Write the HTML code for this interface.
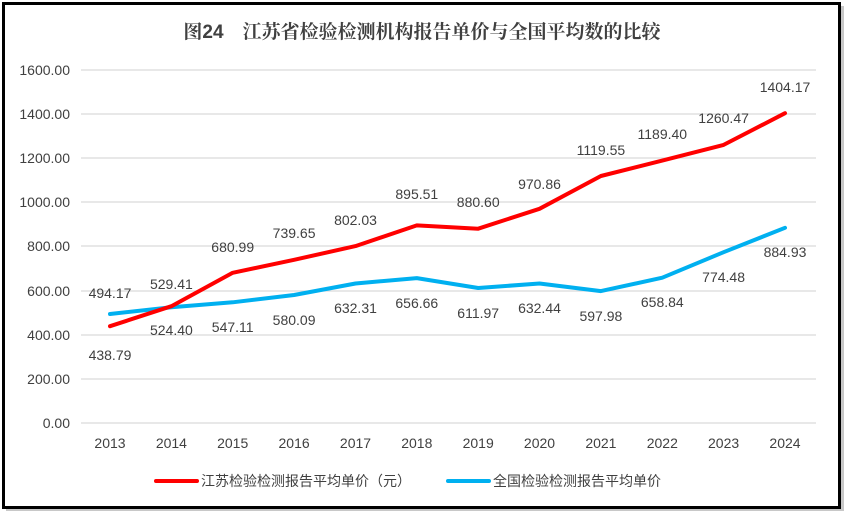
<!DOCTYPE html>
<html><head><meta charset="utf-8"><style>
body{margin:0;background:#fff;}
svg text{font-family:"Liberation Sans","Noto Sans CJK SC",sans-serif;fill:#404040;font-size:14px;}
</style></head><body>
<svg width="850" height="521" viewBox="0 0 850 521" xmlns="http://www.w3.org/2000/svg">
<rect x="0" y="0" width="850" height="521" fill="#fff"/>
<rect x="6" y="6" width="838" height="505" fill="#c8c8c8"/>
<rect x="3.5" y="3.5" width="836" height="504" fill="#fff" stroke="#000" stroke-width="3"/>
<text x="422" y="38" text-anchor="middle" style="font-size:19px;font-weight:bold;fill:#404040;font-family:'Liberation Sans','Noto Serif CJK SC',serif">图24　江苏省检验检测机构报告单价与全国平均数的比较</text>
<g stroke="#d9d9d9" stroke-width="1.3">
<line x1="81" x2="816" y1="70" y2="70"/><line x1="81" x2="816" y1="114" y2="114"/>
<line x1="81" x2="816" y1="158" y2="158"/><line x1="81" x2="816" y1="202" y2="202"/>
<line x1="81" x2="816" y1="246" y2="246"/><line x1="81" x2="816" y1="291" y2="291"/>
<line x1="81" x2="816" y1="335" y2="335"/><line x1="81" x2="816" y1="379" y2="379"/>
<line x1="81" x2="816" y1="423" y2="423"/>
</g>
<g text-anchor="end">
<text x="70" y="75">1600.00</text><text x="70" y="119">1400.00</text><text x="70" y="163">1200.00</text>
<text x="70" y="207">1000.00</text><text x="70" y="251">800.00</text><text x="70" y="296">600.00</text>
<text x="70" y="340">400.00</text><text x="70" y="384">200.00</text><text x="70" y="428">0.00</text>
</g>
<g text-anchor="middle">
<text x="110" y="448">2013</text><text x="171.4" y="448">2014</text><text x="232.7" y="448">2015</text>
<text x="294.1" y="448">2016</text><text x="355.5" y="448">2017</text><text x="416.8" y="448">2018</text>
<text x="478.2" y="448">2019</text><text x="539.5" y="448">2020</text><text x="600.9" y="448">2021</text>
<text x="662.3" y="448">2022</text><text x="723.6" y="448">2023</text><text x="785" y="448">2024</text>
</g>
<polyline fill="none" stroke="#00b0f0" stroke-width="4" stroke-linejoin="round" stroke-linecap="round"
points="110,314 171.4,307.3 232.7,302.3 294.1,295 355.5,283.5 416.8,278.1 478.2,288 539.5,283.5 600.9,291.1 662.3,277.7 723.6,252.2 785,227.8"/>
<polyline fill="none" stroke="#ff0000" stroke-width="4" stroke-linejoin="round" stroke-linecap="round"
points="110,326.2 171.4,306.2 232.7,272.8 294.1,259.8 355.5,246.1 416.8,225.4 478.2,228.7 539.5,208.8 600.9,176 662.3,160.6 723.6,144.9 785,113.2"/>
<g text-anchor="middle">
<text x="110" y="360">438.79</text><text x="171.4" y="289">529.41</text><text x="232.7" y="252">680.99</text>
<text x="294.1" y="238">739.65</text><text x="355.5" y="225">802.03</text><text x="416.8" y="199">895.51</text>
<text x="478.2" y="207">880.60</text><text x="539.5" y="189">970.86</text><text x="600.9" y="155">1119.55</text>
<text x="662.3" y="139">1189.40</text><text x="723.6" y="123">1260.47</text><text x="785" y="92">1404.17</text>
<text x="110" y="298">494.17</text><text x="171.4" y="335">524.40</text><text x="232.7" y="332">547.11</text>
<text x="294.1" y="325">580.09</text><text x="355.5" y="313">632.31</text><text x="416.8" y="308">656.66</text>
<text x="478.2" y="318">611.97</text><text x="539.5" y="313">632.44</text><text x="600.9" y="321">597.98</text>
<text x="662.3" y="307">658.84</text><text x="723.6" y="282">774.48</text><text x="785" y="257">884.93</text>
</g>
<line x1="156" x2="197" y1="481" y2="481" stroke="#ff0000" stroke-width="4" stroke-linecap="round"/>
<text x="201" y="486">江苏检验检测报告平均单价（元）</text>
<line x1="448" x2="489" y1="481" y2="481" stroke="#00b0f0" stroke-width="4" stroke-linecap="round"/>
<text x="493" y="486">全国检验检测报告平均单价</text>
</svg>
</body></html>
